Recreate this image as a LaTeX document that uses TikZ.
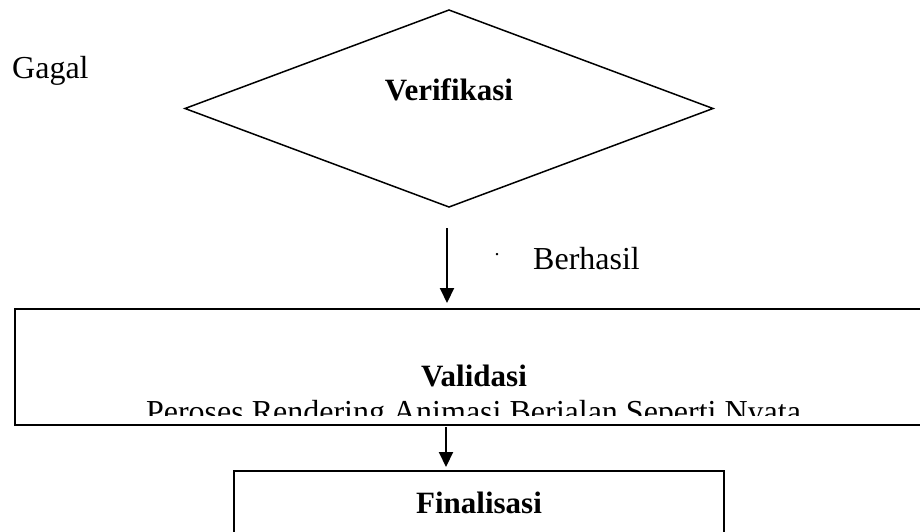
\documentclass[tikz,border=0pt]{standalone}
\usepackage{fontspec}
\setmainfont{Liberation Serif}
\usetikzlibrary{shapes.geometric,arrows.meta}
\begin{document}
\begin{tikzpicture}[x=1pt,y=-1pt,
  txt/.style={inner sep=0pt,font=\fontsize{32}{38}\selectfont},
  btxt/.style={inner sep=0pt,font=\fontsize{31}{37}\selectfont\bfseries},
  boxstyle/.style={draw,line width=2pt,inner sep=0pt,outer sep=0pt},
  arr/.style={line width=2pt,-{Triangle[width=14pt,length=15pt]}}]
\useasboundingbox (0,0) rectangle (920,531);
\clip (0,0) rectangle (920,531);
% decision
\node[draw,diamond,line width=1.5pt,inner sep=0pt,outer sep=0pt,
      minimum width=528pt,minimum height=197pt] (verif) at (449,108.5) {};
\node[btxt,anchor=base] (veriftxt) at (449,100) {Verifikasi};
\node[txt,anchor=base west] (gagal) at (12,78) {Gagal};
% arrow 1
\coordinate (a1s) at (447,228);
\node[boxstyle,minimum width=925pt,minimum height=116pt] (val) at (477.5,367) {};
\draw[arr] (a1s) -- ([yshift=6pt]a1s |- val.north);
\node[inner sep=0pt,font=\fontsize{20}{20}\selectfont,anchor=base] (dot) at (497,255) {.};
\node[txt,anchor=base west] (berhasil) at (533,269) {Berhasil};
\node[btxt,anchor=base] (valtxt) at (474,386) {Validasi};
\begin{scope}
\clip (16,310) rectangle (920,415);
\node[txt,anchor=base] (valsub) at (473.5,422) {Peroses Rendering Animasi Berjalan Seperti Nyata};
\end{scope}
% arrow 2
\node[boxstyle,minimum width=490pt,minimum height=100pt] (fin) at (479,521) {};
\coordinate (a2s) at (446,427);
\draw[arr] (a2s) -- ([yshift=4pt]a2s |- fin.north);
\node[btxt,anchor=base] (fintxt) at (479,513) {Finalisasi};
\end{tikzpicture}
\end{document}
